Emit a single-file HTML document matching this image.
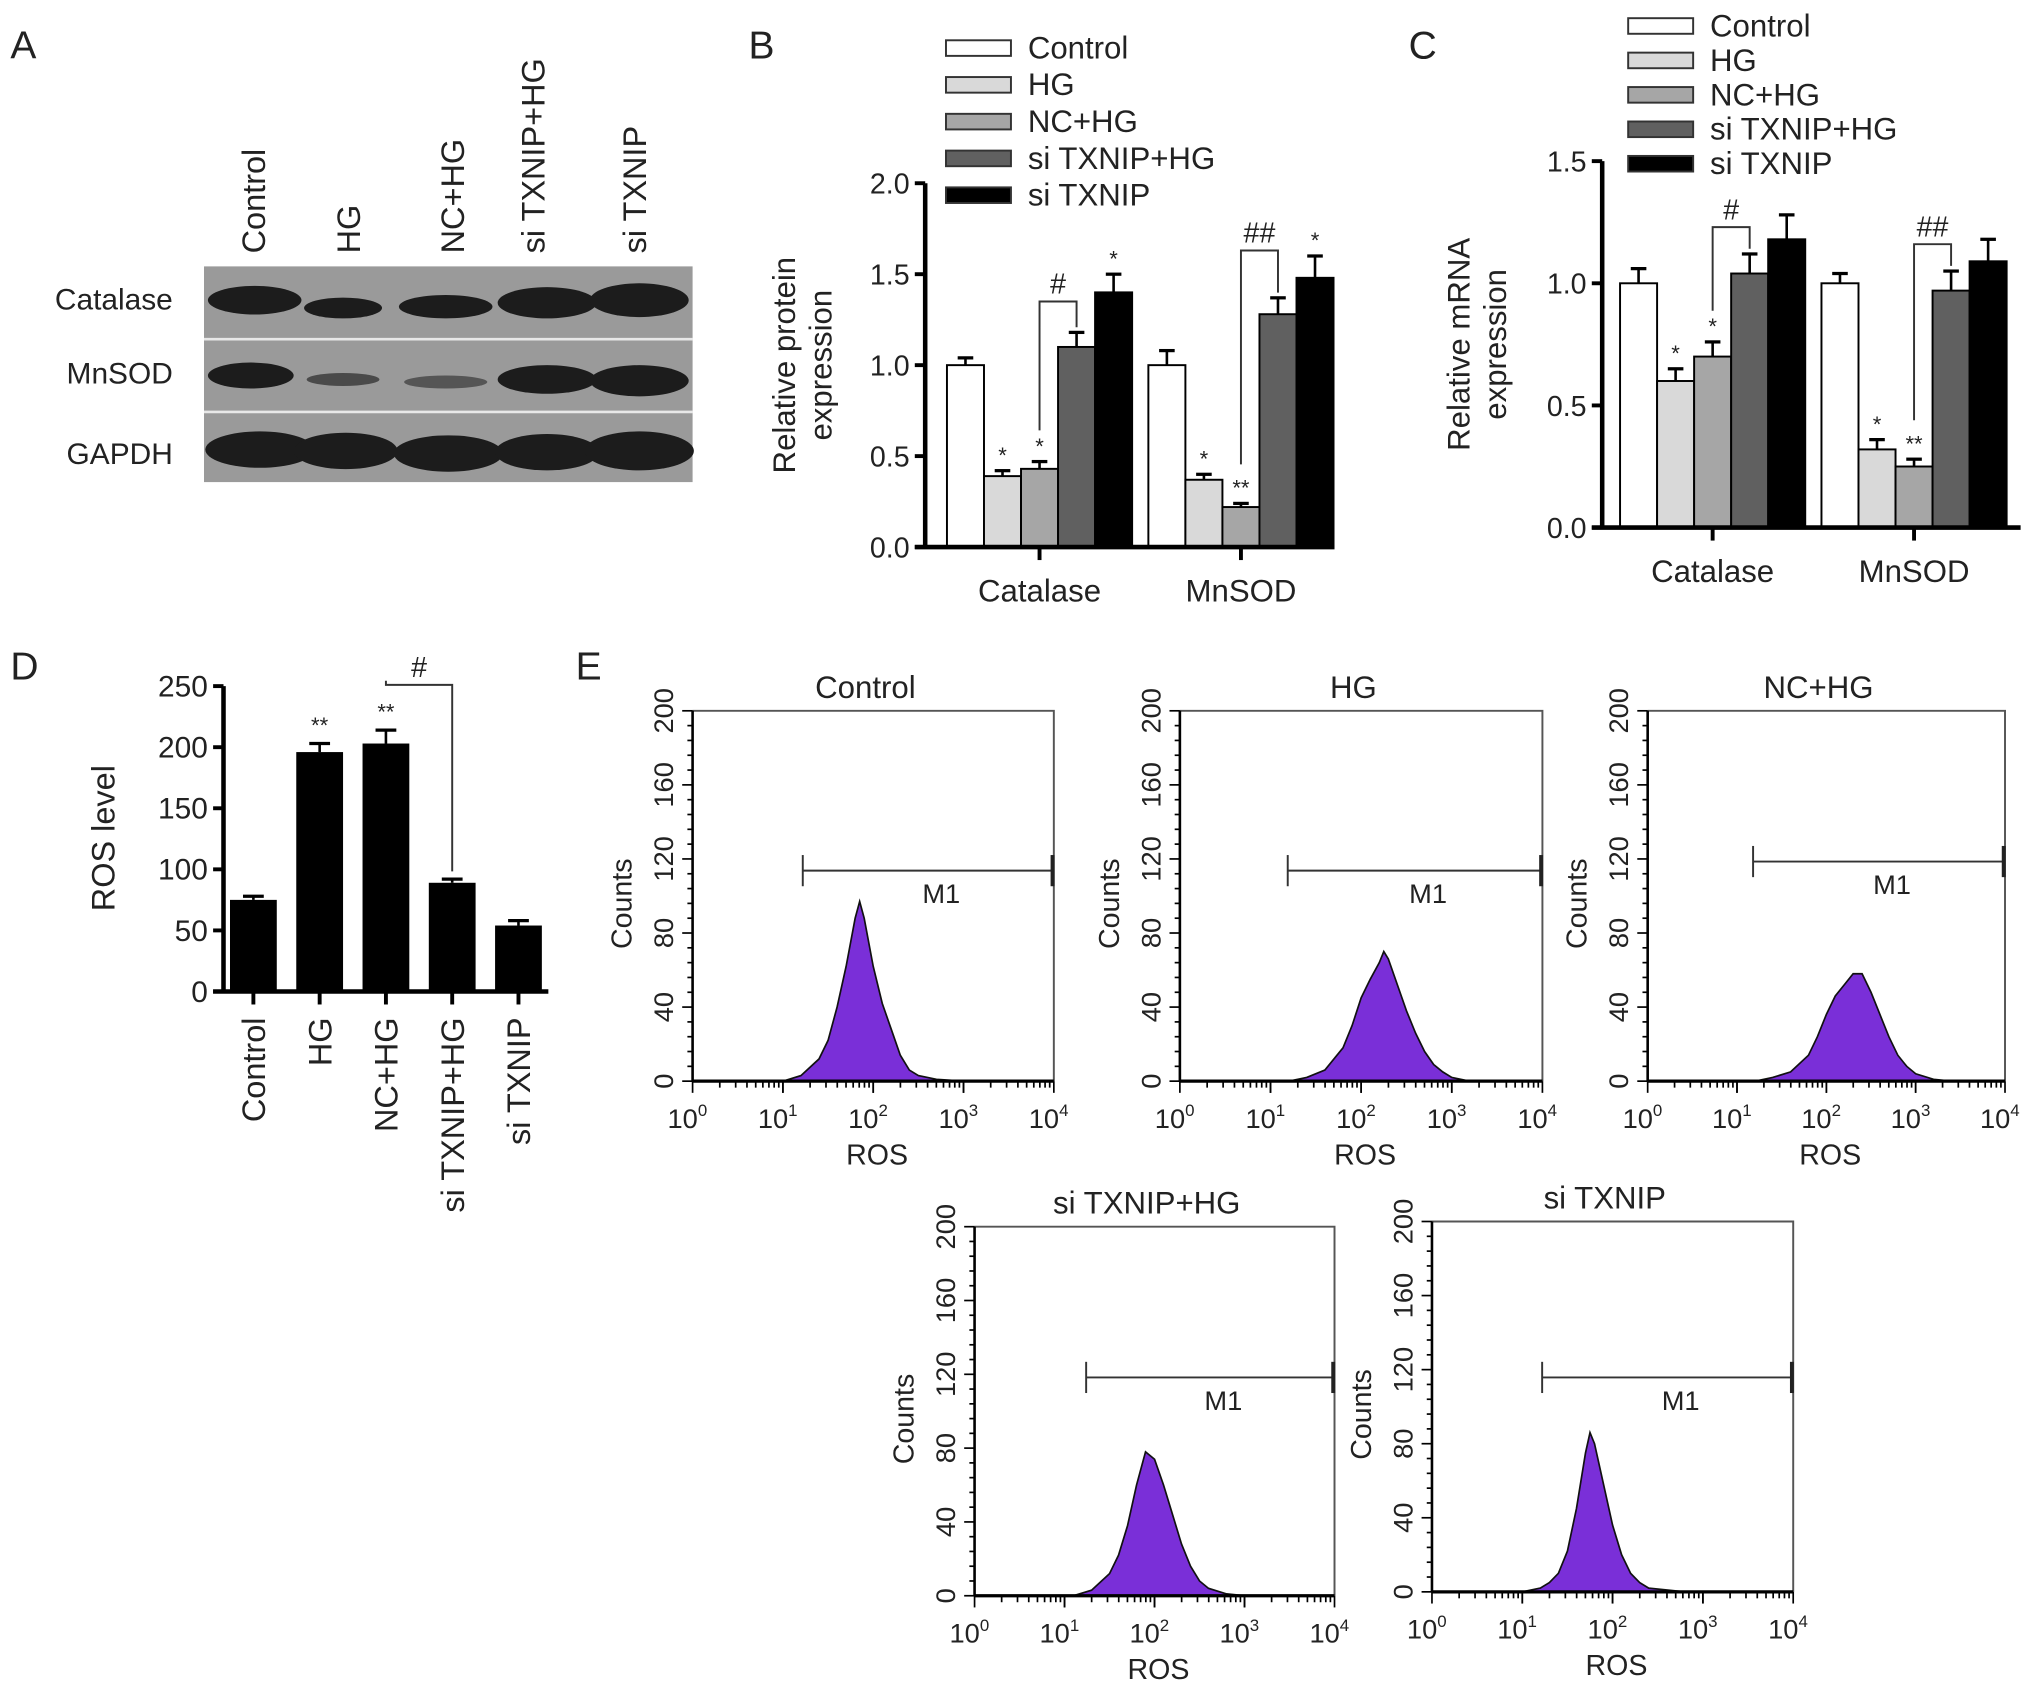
<!DOCTYPE html>
<html><head><meta charset="utf-8"><style>
html,body{margin:0;padding:0;background:#fff}
svg{display:block}
text{font-family:"Liberation Sans",Arial,sans-serif;fill:#222}
</style></head><body>
<svg id="fig" width="2031" height="1688" viewBox="0 0 1563 1299" preserveAspectRatio="none" xmlns="http://www.w3.org/2000/svg">
<rect x="0" y="0" width="1563" height="1299" fill="#fff"/>
<!-- Panel A -->
<g>
<text x="8" y="45" font-size="30">A</text>
<g font-size="25">
<text transform="translate(204,195) rotate(-90)">Control</text>
<text transform="translate(277,195) rotate(-90)">HG</text>
<text transform="translate(357,195) rotate(-90)">NC+HG</text>
<text transform="translate(419,195) rotate(-90)">si TXNIP+HG</text>
<text transform="translate(497,195) rotate(-90)">si TXNIP</text>
</g>
<rect x="157" y="205" width="376" height="166" fill="#9a9a9a"/>
<line x1="157" y1="261" x2="533" y2="261" stroke="#e8e8e8" stroke-width="2"/>
<line x1="157" y1="317" x2="533" y2="317" stroke="#e8e8e8" stroke-width="2"/>
<g fill="#1c1c1c">
<ellipse cx="196" cy="231" rx="36" ry="11"/><ellipse cx="264" cy="237" rx="30" ry="8"/><ellipse cx="343" cy="236" rx="36" ry="9"/><ellipse cx="421" cy="233" rx="38" ry="12"/><ellipse cx="492" cy="231" rx="38" ry="13"/>
<ellipse cx="193" cy="289" rx="33" ry="10"/><ellipse cx="264" cy="292" rx="28" ry="5" fill="#4a4a4a"/><ellipse cx="343" cy="294" rx="32" ry="5" fill="#555"/><ellipse cx="421" cy="292" rx="38" ry="11"/><ellipse cx="492" cy="293" rx="38" ry="12"/>
<ellipse cx="200" cy="346" rx="42" ry="14"/><ellipse cx="266" cy="347" rx="40" ry="14"/><ellipse cx="345" cy="349" rx="42" ry="14"/><ellipse cx="421" cy="348" rx="40" ry="14"/><ellipse cx="492" cy="347" rx="42" ry="15"/>
</g>
<g font-size="23" text-anchor="end">
<text x="133" y="238">Catalase</text><text x="133" y="295">MnSOD</text><text x="133" y="357">GAPDH</text>
</g>
</g>
<text x="576" y="45" font-size="30">B</text>
<text x="1084" y="45" font-size="30">C</text>
<text x="8" y="523" font-size="30">D</text>
<text x="443" y="523" font-size="30">E</text>
<g id="gB"></g>
<g id="gC"></g>
<g id="gD"></g>
<g id="gE"></g>
</svg>
<script>
// ---- data ----
const groups = ["Control","HG","NC+HG","si TXNIP+HG","si TXNIP"];
const categories = ["Catalase","MnSOD"];
const fills = ["#ffffff","#d9d9d9","#a6a6a6","#606060","#000000"];
const protCatalase = [1.0,0.39,0.43,1.10,1.40];
const protCatalaseErr = [0.04,0.03,0.04,0.08,0.10];
const protMnSOD = [1.0,0.37,0.22,1.28,1.48];
const protMnSODErr = [0.08,0.03,0.02,0.09,0.12];
const protTicks = ["0.0","0.5","1.0","1.5","2.0"];
const mrnaCatalase = [1.0,0.60,0.70,1.04,1.18];
const mrnaCatalaseErr = [0.06,0.05,0.06,0.08,0.10];
const mrnaMnSOD = [1.0,0.32,0.25,0.97,1.09];
const mrnaMnSODErr = [0.04,0.04,0.03,0.08,0.09];
const mrnaTicks = ["0.0","0.5","1.0","1.5"];
const protStars = [["","*","*","","*"],["","*","**","","*"]];
const mrnaStars = [["","*","*","",""],["","*","**","",""]];
const rosValues = [75,196,203,89,54];
const rosErr = [3,7,11,3,4];
const rosTicks = ["0","50","100","150","200","250"];
const rosStars = ["","**","**","",""];
const histTitles = ["Control","HG","NC+HG","si TXNIP+HG","si TXNIP"];
const histCountTicks = ["0","40","80","120","160","200"];
const ctrlLog = [1.0,1.2,1.4,1.5,1.6,1.7,1.8,1.85,1.9,2.0,2.1,2.2,2.3,2.4,2.5,2.7,3.0];
const ctrlCnt = [0,3,12,22,40,62,88,97,88,62,42,28,14,6,3,1,0];
const hgLog = [1.2,1.4,1.6,1.8,1.9,2.0,2.1,2.2,2.25,2.3,2.4,2.5,2.6,2.7,2.8,2.9,3.0,3.2];
const hgCnt = [0,2,6,18,30,45,55,64,70,66,52,38,26,16,9,5,2,0];
const ncLog = [1.2,1.4,1.6,1.8,1.9,2.0,2.1,2.2,2.3,2.4,2.5,2.6,2.7,2.8,2.9,3.0,3.2,3.4];
const ncCnt = [0,2,5,14,24,36,46,52,58,58,48,36,24,14,8,4,1,0];
const sihgLog = [1.1,1.3,1.5,1.6,1.7,1.8,1.9,2.0,2.1,2.2,2.3,2.4,2.5,2.6,2.8,3.0];
const sihgCnt = [0,3,12,22,38,60,78,74,60,44,28,16,8,4,1,0];
const siLog = [1.0,1.2,1.3,1.4,1.5,1.6,1.7,1.75,1.8,1.9,2.0,2.1,2.2,2.3,2.4,2.6,2.8];
const siCnt = [0,2,5,10,22,45,75,86,80,58,36,20,10,5,2,1,0];
const m1Start = [1.22,1.19,1.18,1.24,1.22];

const NS="http://www.w3.org/2000/svg";
function mk(parent,tag,attrs,txt){const e=document.createElementNS(NS,tag);for(const k in attrs)e.setAttribute(k,attrs[k]);if(txt!==undefined)e.textContent=txt;parent.appendChild(e);return e;}

function barChart(g,cfg){
  const {x0,x1,y0,y1,max,ticks,series,errs,stars,groupX,legendX,legendY,legendDy,titleLines,titleX,titleY,brackets}=cfg;
  const ys=v=>y0-(v/max)*(y0-y1);
  const bw=28.5;
  series.forEach((vals,ci)=>{
    vals.forEach((v,i)=>{
      const bx=groupX[ci]-2.5*bw+i*bw;
      const r=mk(g,'rect',{x:bx,y:ys(v),width:bw,height:y0-ys(v),fill:fills[i],stroke:'#000','stroke-width':1.5});
      
      
      const e=errs[ci][i], cx=bx+bw/2;
      mk(g,'line',{x1:cx,y1:ys(v),x2:cx,y2:ys(v+e),stroke:'#000','stroke-width':2});
      mk(g,'line',{x1:cx-6,y1:ys(v+e),x2:cx+6,y2:ys(v+e),stroke:'#000','stroke-width':2.5});
      if(stars[ci][i]){const t=mk(g,'text',{x:cx,y:ys(v+e)-6,'font-size':17,'text-anchor':'middle'},stars[ci][i]);
        }
    });
    mk(g,'line',{x1:groupX[ci],y1:y0,x2:groupX[ci],y2:y0+10,stroke:'#000','stroke-width':3});
    const t=mk(g,'text',{x:groupX[ci],y:y0+42,'font-size':24,'text-anchor':'middle'},categories[ci]);
    
  });
  (brackets||[]).forEach(b=>{
    const ci=b.cat, ax=groupX[ci]-2.5*bw+2*bw+bw/2, bx2=groupX[ci]-2.5*bw+3*bw+bw/2;
    const ya=ys(series[ci][2]+errs[ci][2])-(b.gapA||24), yb=ys(series[ci][3]+errs[ci][3])-4, yt=ys(b.top);
    mk(g,'polyline',{points:`${ax},${ya} ${ax},${yt} ${bx2},${yt} ${bx2},${yb}`,fill:'none',stroke:'#333','stroke-width':1.5});
    const t=mk(g,'text',{x:(ax+bx2)/2,y:yt-6,'font-size':22,'text-anchor':'middle'},b.label);
    
  });
  const ya=mk(g,'line',{x1:x0,y1:y0+1.5,x2:x0,y2:y1,stroke:'#000','stroke-width':3.5});
  
  const xa=mk(g,'line',{x1:x0-8,y1:y0,x2:x1,y2:y0,stroke:'#000','stroke-width':3.5});
  
  ticks.forEach((tk,i)=>{const v=parseFloat(tk);const y=ys(v);
    mk(g,'line',{x1:x0-8,y1:y,x2:x0,y2:y,stroke:'#000','stroke-width':3});
    const t=mk(g,'text',{x:x0-12,y:y+8,'font-size':22,'text-anchor':'end'},tk);
    });
  titleLines.forEach((ln,i)=>{const t=mk(g,'text',{transform:`translate(${titleX+i*28},${titleY}) rotate(-90)`,'font-size':24,'text-anchor':'middle'},ln);
    });
  groups.forEach((nm,i)=>{const y=legendY+i*legendDy;
    const r=mk(g,'rect',{x:legendX,y:y-6,width:50,height:12,fill:fills[i],stroke:'#333','stroke-width':1.5});
    
    const t=mk(g,'text',{x:legendX+63,y:y+8,'font-size':24},nm);
    });
}

barChart(document.getElementById('gB'),{x0:712,x1:1027,y0:421,y1:141,max:2.0,ticks:protTicks,
  series:[protCatalase,protMnSOD],errs:[protCatalaseErr,protMnSODErr],stars:protStars,groupX:[800,955],
  legendX:728,legendY:37,legendDy:28.3,titleLines:["Relative protein","expression"],titleX:612,titleY:281,
  brackets:[{cat:0,top:1.35,label:"#"},{cat:1,top:1.63,label:"##",gapA:30}]});
barChart(document.getElementById('gC'),{x0:1233,x1:1555,y0:406,y1:124,max:1.5,ticks:mrnaTicks,
  series:[mrnaCatalase,mrnaMnSOD],errs:[mrnaCatalaseErr,mrnaMnSODErr],stars:mrnaStars,groupX:[1318,1473],
  legendX:1253,legendY:20,legendDy:26.5,titleLines:["Relative mRNA","expression"],titleX:1131,titleY:265,
  brackets:[{cat:0,top:1.23,label:"#"},{cat:1,top:1.16,label:"##",gapA:30}]});

// Panel D
(function(){
  const g=document.getElementById('gD');
  const x0=172,y0=763,y1=528,max=250;
  const ys=v=>y0-(v/max)*(y0-y1);
  const cx0=195,step=51,bw=36;
  rosValues.forEach((v,i)=>{const cx=cx0+i*step;
    const r=mk(g,'rect',{x:cx-bw/2,y:ys(v),width:bw,height:y0-ys(v),fill:'#000'});
    
    mk(g,'line',{x1:cx,y1:ys(v),x2:cx,y2:ys(v+rosErr[i]),stroke:'#000','stroke-width':2});
    mk(g,'line',{x1:cx-8,y1:ys(v+rosErr[i]),x2:cx+8,y2:ys(v+rosErr[i]),stroke:'#000','stroke-width':2.5});
    if(rosStars[i]){const t=mk(g,'text',{x:cx,y:ys(v+rosErr[i])-8,'font-size':17,'text-anchor':'middle'},rosStars[i]);
      }
    mk(g,'line',{x1:cx,y1:y0,x2:cx,y2:y0+10,stroke:'#000','stroke-width':3});
    const t=mk(g,'text',{transform:`translate(${cx+9},${y0+20}) rotate(-90)`,'font-size':25,'text-anchor':'end'},groups[i]);
    
  });
  const ax=cx0+2*step, bx=cx0+3*step, yt=ys(251);
  mk(g,'polyline',{points:`${ax},${ys(rosValues[2]+rosErr[2])-38} ${ax},${yt} ${bx},${yt} ${bx},${ys(rosValues[3]+rosErr[3])-6}`,fill:'none',stroke:'#333','stroke-width':1.5});
  mk(g,'text',{x:(ax+bx)/2,y:yt-6,'font-size':22,'text-anchor':'middle'},'#');
  const ya=mk(g,'line',{x1:x0,y1:y0+1.5,x2:x0,y2:y1,stroke:'#000','stroke-width':3.5});
  
  const xa=mk(g,'line',{x1:x0-8,y1:y0,x2:422,y2:y0,stroke:'#000','stroke-width':3.5});
  
  rosTicks.forEach(tk=>{const y=ys(parseFloat(tk));
    mk(g,'line',{x1:x0-8,y1:y,x2:x0,y2:y,stroke:'#000','stroke-width':3});
    const t=mk(g,'text',{x:x0-12,y:y+8,'font-size':23,'text-anchor':'end'},tk);
    });
  const t=mk(g,'text',{transform:`translate(88,645) rotate(-90)`,'font-size':25,'text-anchor':'middle'},'ROS level');
  
})();

// Panel E
(function(){
  const g=document.getElementById('gE');
  const boxes=[{l:533,r:811,t:547,b:832,ty:537,m1y:670},{l:908,r:1187,t:547,b:832,ty:542,m1y:670},
    {l:1268,r:1543,t:547,b:832,ty:542,m1y:663},{l:750,r:1027,t:944,b:1228,ty:938,m1y:1060},{l:1102,r:1380,t:940,b:1225,ty:934,m1y:1060}];
  const logs=[ctrlLog,hgLog,ncLog,sihgLog,siLog], cnts=[ctrlCnt,hgCnt,ncCnt,sihgCnt,siCnt];
  boxes.forEach((B,k)=>{
    const sub=mk(g,'g',{});
    
    
    const xs=lv=>B.l+lv/4*(B.r-B.l), ys=c=>B.b-c/200*(B.b-B.t);
    mk(sub,'polyline',{points:`${B.l},${B.t} ${B.r},${B.t} ${B.r},${B.b}`,fill:'none',stroke:'#555','stroke-width':1.5});
    let pts=`${xs(logs[k][0])},${B.b} `+logs[k].map((lv,i)=>`${xs(lv)},${ys(cnts[k][i])}`).join(' ')+` ${xs(logs[k][logs[k].length-1])},${B.b}`;
    const p=mk(sub,'polygon',{points:pts,fill:'#7a2fd8',stroke:'#111','stroke-width':1.3});
    
    mk(sub,'line',{x1:B.l,y1:B.b,x2:B.r,y2:B.b,stroke:'#000','stroke-width':2.5});
    mk(sub,'line',{x1:B.l,y1:B.t,x2:B.l,y2:B.b,stroke:'#000','stroke-width':2});
    for(let d=0;d<4;d++){for(let m=1;m<=10;m++){const x=xs(d+Math.log10(m));
      mk(sub,'line',{x1:x,y1:B.b,x2:x,y2:B.b+(m===1||m===10?9:5),stroke:'#000','stroke-width':1.3});}}
    for(let d=0;d<=4;d++){const t=mk(sub,'text',{x:xs(d)-4,y:B.b+36,'font-size':21,'text-anchor':'middle'});
      
      t.textContent='10';mk(t,'tspan',{dy:-9,'font-size':13},String(d));}
    for(let c=0;c<=200;c+=8){mk(sub,'line',{x1:B.l-(c%40===0?8:4),y1:ys(c),x2:B.l,y2:ys(c),stroke:'#000','stroke-width':1.3});}
    histCountTicks.forEach(tk=>{const t=mk(sub,'text',{transform:`translate(${B.l-15},${ys(parseFloat(tk))}) rotate(-90)`,'font-size':21,'text-anchor':'middle'},tk);
      });
    const yt=mk(sub,'text',{transform:`translate(${B.l-47},${(B.t+B.b)/2+6}) rotate(-90)`,'font-size':22,'text-anchor':'middle'},'Counts');
    
    const xt=mk(sub,'text',{x:(B.l+B.r)/2+3,y:B.b+64,'font-size':22,'text-anchor':'middle'},'ROS');
    
    const tt=mk(sub,'text',{x:(B.l+B.r)/2-6,y:B.t-10,'font-size':24,'text-anchor':'middle'},histTitles[k]);
    
    const mx=xs(m1Start[k]);
    const m1=mk(sub,'g',{});
    
    mk(m1,'line',{x1:mx,y1:B.m1y,x2:B.r-1,y2:B.m1y,stroke:'#333','stroke-width':1.5});
    mk(m1,'line',{x1:mx,y1:B.m1y-12,x2:mx,y2:B.m1y+12,stroke:'#333','stroke-width':1.5});
    mk(m1,'line',{x1:B.r-1,y1:B.m1y-12,x2:B.r-1,y2:B.m1y+12,stroke:'#222','stroke-width':3});
    mk(m1,'text',{x:(mx+B.r)/2+10,y:B.m1y+25,'font-size':21,'text-anchor':'middle'},'M1');
  });
})();
</script>
</body></html>
